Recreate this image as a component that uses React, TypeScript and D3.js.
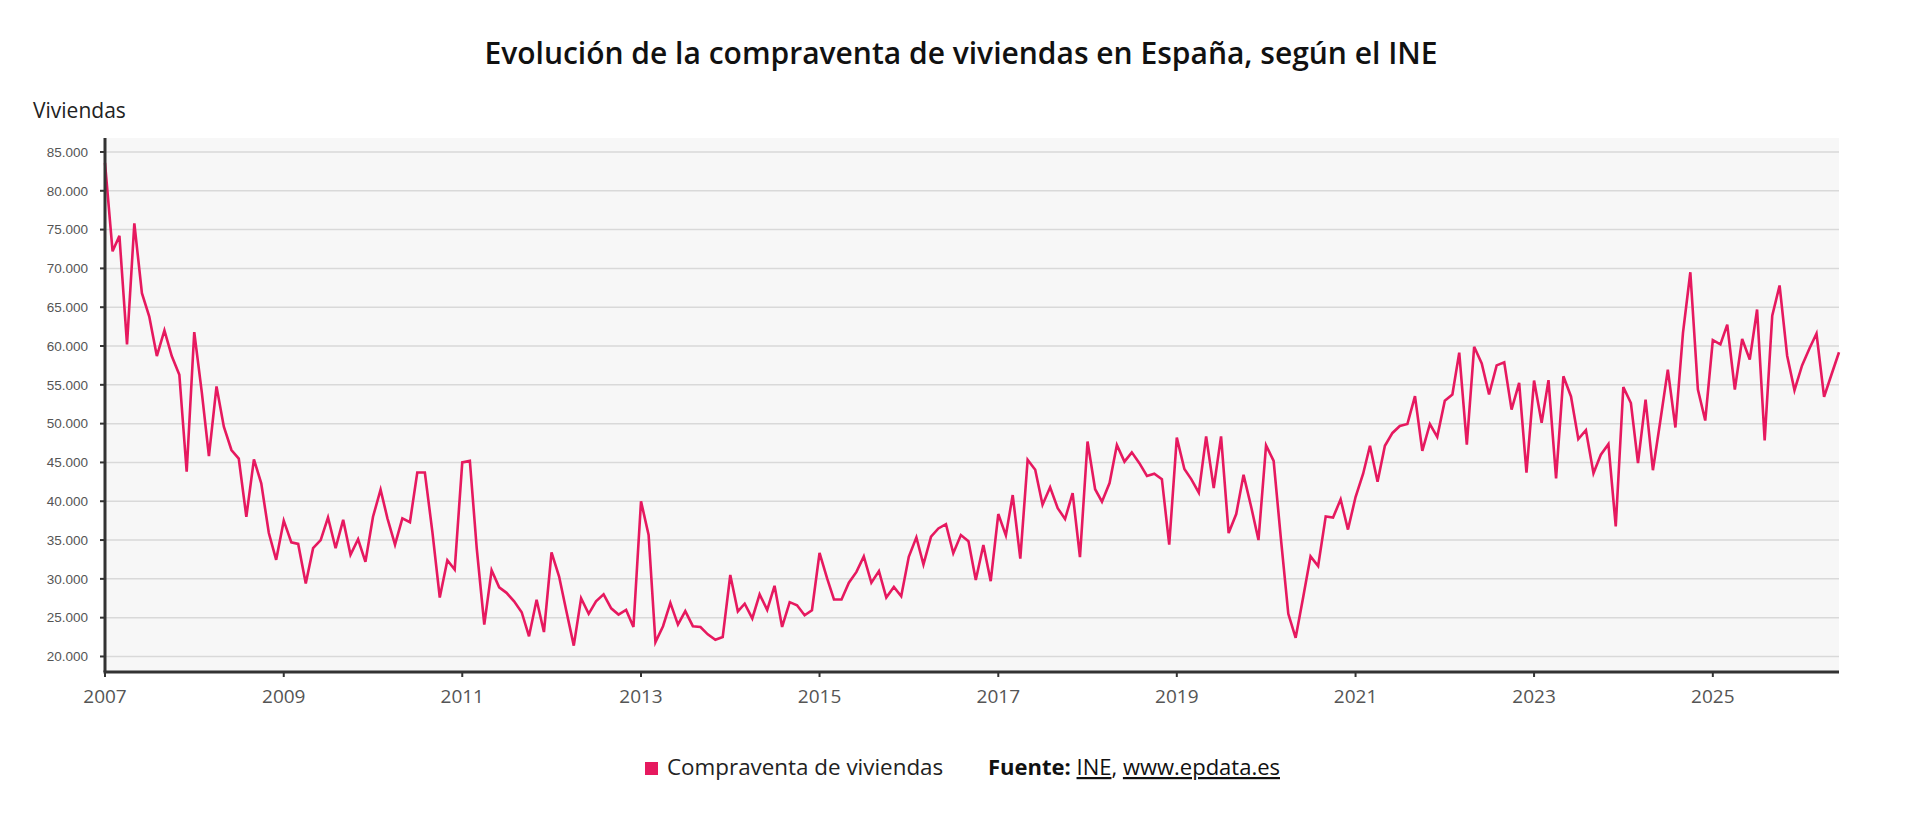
import React from 'react';
import * as d3 from 'd3';

// Compraventa de viviendas, mensual (INE)
const v2007 = [83600, 72200, 74200, 60200, 75800, 66800, 63800, 58700, 62000, 58700, 56300, 43800];
const v2008 = [61800, 54000, 45800, 54800, 49600, 46600, 45500, 38000, 45400, 42300, 35900, 32450];
const v2009 = [37500, 34700, 34500, 29400, 33950, 35000, 37900, 33950, 37600, 33100, 35100, 32200];
const v2010 = [38000, 41500, 37800, 34400, 37800, 37300, 43700, 43700, 36000, 27600, 32400, 31200];
const v2011 = [45000, 45200, 34000, 24100, 31100, 28900, 28200, 27100, 25700, 22600, 27300, 23150];
const v2012 = [33400, 30300, 25950, 21400, 27500, 25500, 27100, 28000, 26200, 25400, 26000, 23800];
const v2013 = [40000, 35650, 21850, 23900, 26900, 24100, 25850, 23900, 23800, 22850, 22150, 22500];
const v2014 = [30500, 25800, 26800, 24900, 28000, 26000, 29100, 23800, 27000, 26600, 25300, 25950];
const v2015 = [33350, 30050, 27350, 27350, 29500, 30900, 32900, 29500, 31000, 27600, 28950, 27750];
const v2016 = [32850, 35350, 31850, 35450, 36500, 37050, 33300, 35650, 34850, 29850, 34350, 29700];
const v2017 = [38350, 35600, 40800, 32600, 45350, 44050, 39550, 41800, 39100, 37700, 41050, 32800];
const v2018 = [47700, 41550, 39950, 42350, 47250, 45100, 46300, 44900, 43250, 43550, 42850, 34400];
const v2019 = [48200, 44150, 42850, 41100, 48350, 41700, 48350, 35900, 38350, 43400, 39300, 35000];
const v2020 = [47200, 45200, 35400, 25500, 22400, 27650, 32900, 31650, 38050, 37900, 40250, 36350];
const v2021 = [40550, 43550, 47150, 42500, 47150, 48800, 49700, 49950, 53550, 46500, 49950, 48300];
const v2022 = [52950, 53750, 59150, 47300, 59900, 57750, 53750, 57500, 57900, 51800, 55250, 43700];
const v2023 = [55550, 50100, 55600, 42950, 56100, 53500, 48000, 49150, 43600, 46000, 47350, 36750];
const v2024 = [54700, 52650, 44900, 53100, 44000, 50500, 56950, 49500, 61700, 69500, 54400, 50400];
const v2025 = [60750, 60200, 62750, 54400, 60900, 58250, 64700, 47850, 63900, 67800, 58750, 54300];
const v2026 = [57500, 59750, 61600, 53450, 56300, 59200];

const yearlySeries = [
  v2007, v2008, v2009, v2010, v2011, v2012, v2013, v2014, v2015, v2016,
  v2017, v2018, v2019, v2020, v2021, v2022, v2023, v2024, v2025, v2026,
];
const firstYear = 2007;

const yTicks = [20000, 25000, 30000, 35000, 40000, 45000, 50000, 55000, 60000, 65000, 70000, 75000, 80000, 85000];
const xTickYears = [2007, 2009, 2011, 2013, 2015, 2017, 2019, 2021, 2023, 2025];

const title = 'Evolución de la compraventa de viviendas en España, según el INE';
const yLabel = 'Viviendas';
const seriesName = 'Compraventa de viviendas';

const LINE_COLOR = '#e6195f';

const esLocale = d3.formatLocale({
  decimal: ',',
  thousands: '.',
  grouping: [3],
  currency: ['', ' €'],
});
const fmt = esLocale.format(',.0f');

type Point = { date: Date; value: number };

export default function App() {
  const W = 1920;
  const H = 824;
  const plot = { left: 105, right: 1839, top: 138, bottom: 672 };

  const points: Point[] = [];
  yearlySeries.forEach((vals, yi) => {
    vals.forEach((v, mi) => {
      points.push({ date: new Date(Date.UTC(firstYear + yi, mi, 1)), value: v });
    });
  });

  const x = d3
    .scaleUtc()
    .domain([points[0].date, points[points.length - 1].date])
    .range([plot.left, plot.right]);

  const y = d3.scaleLinear().domain([18000, 86800]).range([plot.bottom, plot.top]);

  const line = d3
    .line<Point>()
    .x(d => x(d.date))
    .y(d => y(d.value));

  const font = '"Open Sans", "DejaVu Sans", sans-serif';

  return (
    <div style={{ position: 'fixed', left: 0, top: 0, width: W, height: H, background: '#fff' }}>
      <svg width={W} height={H} style={{ display: 'block' }}>
        {/* title */}
        <text
          x={961}
          y={64}
          textAnchor="middle"
          fontFamily={font}
          fontWeight={600}
          fontSize={30}
          fill="#111"
        >
          {title}
        </text>

        <text x={33} y={118} fontFamily={font} fontSize={21} fill="#222">
          {yLabel}
        </text>

        {/* plot background */}
        <rect
          x={plot.left}
          y={plot.top}
          width={plot.right - plot.left}
          height={plot.bottom - plot.top}
          fill="#f7f7f7"
        />

        {/* grid + y ticks */}
        {yTicks.map(t => (
          <g key={t}>
            <line
              x1={plot.left}
              x2={plot.right}
              y1={y(t)}
              y2={y(t)}
              stroke="#d9d9d9"
              strokeWidth={1.5}
            />
            <line x1={plot.left - 5} x2={plot.left} y1={y(t)} y2={y(t)} stroke="#333" strokeWidth={2} />
            <text
              x={plot.left - 17}
              y={y(t)}
              dy="0.35em"
              textAnchor="end"
              fontFamily='"Liberation Sans", Arial, sans-serif'
              fontSize={13.5}
              fill="#555"
            >
              {fmt(t)}
            </text>
          </g>
        ))}

        {/* x ticks */}
        {xTickYears.map(yr => {
          const xp = x(new Date(Date.UTC(yr, 0, 1)));
          return (
            <g key={yr}>
              <line x1={xp} x2={xp} y1={plot.bottom} y2={plot.bottom + 5} stroke="#333" strokeWidth={2} />
              <text
                x={xp}
                y={703}
                textAnchor="middle"
                fontFamily={font}
                fontSize={19}
                fill="#555"
              >
                {yr}
              </text>
            </g>
          );
        })}

        {/* series */}
        <path
          d={line(points) || ''}
          fill="none"
          stroke={LINE_COLOR}
          strokeWidth={2.6}
          strokeLinejoin="miter"
        />

        {/* axes */}
        <line x1={plot.left} x2={plot.left} y1={plot.top} y2={plot.bottom} stroke="#333" strokeWidth={3} />
        <line x1={plot.left - 1.5} x2={plot.right} y1={plot.bottom} y2={plot.bottom} stroke="#333" strokeWidth={3} />

        {/* legend */}
        <rect x={645} y={762} width={13} height={13} fill={LINE_COLOR} />
        <text x={667} y={775} fontFamily={font} fontSize={22.4} fill="#222">
          {seriesName}
        </text>
        <text x={988} y={775} fontFamily={font} fontSize={22} fill="#111">
          <tspan fontWeight={700}>Fuente:</tspan>
          <tspan> </tspan>
          <tspan textDecoration="underline">INE</tspan>
          <tspan>, </tspan>
          <tspan textDecoration="underline">www.epdata.es</tspan>
        </text>
      </svg>
    </div>
  );
}
